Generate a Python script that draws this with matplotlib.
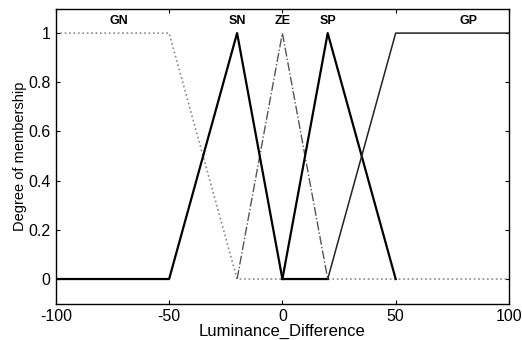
import matplotlib.pyplot as plt

plt.rcParams['font.family'] = ['Liberation Sans', 'DejaVu Sans']
plt.rcParams['axes.unicode_minus'] = False

# membership function breakpoints
gn_x = [-100, -50, -20, 100]
gn_y = [1, 1, 0, 0]
sn_x = [-100, -50, -20, 0, 20]
sn_y = [0, 0, 1, 0, 0]
ze_x = [-20, 0, 20]
ze_y = [0, 1, 0]
sp_x = [0, 20, 50]
sp_y = [0, 1, 0]
gp_x = [20, 50, 100]
gp_y = [0, 1, 1]

mf_names = ['GN', 'SN', 'ZE', 'SP', 'GP']
mf_label_x = [-72, -20, 0, 20, 82]

fig = plt.figure(figsize=(5.22, 3.40), dpi=100)
ax = fig.add_axes([0.107, 0.107, 0.868, 0.868])

ax.plot(gn_x, gn_y, color='#8a8a8a', linestyle=':', linewidth=1.2)
ax.plot(ze_x, ze_y, color='#555555', linestyle='-.', linewidth=1.0)
ax.plot(sn_x, sn_y, color='black', linewidth=1.6)
ax.plot(sp_x, sp_y, color='black', linewidth=1.6)
ax.plot(gp_x, gp_y, color='#222222', linewidth=1.1)

for name, x in zip(mf_names, mf_label_x):
    ax.text(x, 1.05, name, ha='center', va='center', fontsize=9, fontweight='bold')

ax.set_xlim(-100, 100)
ax.set_ylim(-0.1, 1.1)
ax.set_xticks([-100, -50, 0, 50, 100])
ax.set_yticks([0, 0.2, 0.4, 0.6, 0.8, 1])
ax.set_yticklabels(['0', '0.2', '0.4', '0.6', '0.8', '1'])
ax.tick_params(direction='in', top=True, right=True, labelsize=11.5, length=3, pad=4)
for s in ax.spines.values():
    s.set_linewidth(1.0)

ax.set_xlabel('Luminance_Difference', fontsize=12, labelpad=0)
ax.set_ylabel('Degree of membership', fontsize=10.5, labelpad=1)

fig.savefig('out.png', dpi=100)
